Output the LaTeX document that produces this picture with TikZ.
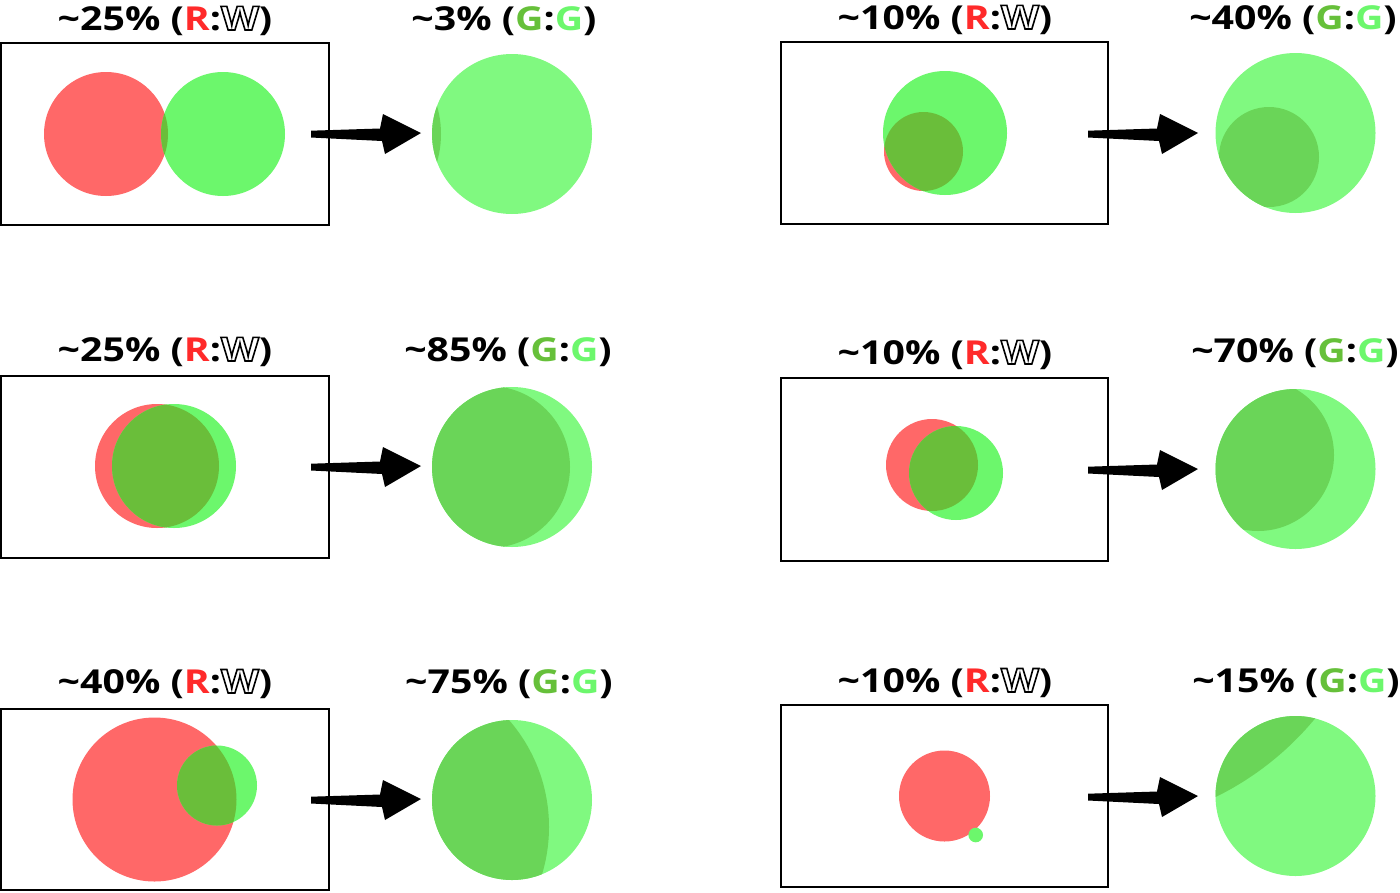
\documentclass[tikz,border=0pt]{standalone}
\usepackage{fontspec}
\setmainfont{Open Sans}[FakeStretch=1.19]
\definecolor{cred}{RGB}{255,104,104}
\definecolor{cgreen}{RGB}{108,247,108}
\definecolor{colive}{RGB}{106,190,58}
\definecolor{clight}{RGB}{128,249,128}
\definecolor{cdark}{RGB}{106,213,88}
\definecolor{tred}{RGB}{255,42,42}
\definecolor{tg}{RGB}{102,192,58}
\definecolor{tl}{RGB}{108,247,108}
\newcommand{\hollowW}{\special{pdf:literal direct 1 Tr 1.6 w}W\special{pdf:literal direct 0 Tr}}
\newcommand{\RW}{(\textcolor{tred}{R}:\hollowW)}
\newcommand{\GG}{(\textcolor{tg}{G}:\textcolor{tl}{G})}
\newcommand{\fatarrow}[1]{\fill[black,shift={(#1)}] (0,-3.3) -- (69,-5.5) -- (72,-20) -- (110,-1) -- (74,20) -- (71,7) -- (0,3.5) -- cycle;}
\tikzset{
  lab/.style={font=\fontsize{33}{33}\selectfont\bfseries, anchor=base, inner sep=0},
  frame/.style={draw=black, line width=1.6pt, fill=white}
}
\begin{document}
\begin{tikzpicture}[x=1pt,y=-1pt]
\useasboundingbox (0,0) rectangle (1400,892);
% ---------- frames
\draw[frame] (1,43) rectangle (329,225);
\draw[frame] (1,376) rectangle (329,558);
\draw[frame] (1,709) rectangle (329,890);
\draw[frame] (781,42) rectangle (1108,224);
\draw[frame] (781,378) rectangle (1108,561);
\draw[frame] (781,705) rectangle (1108,887);
% ---------- labels
\node[lab] (t1) at (165,30) {\textasciitilde25\% \RW};
\node[lab] (t2) at (504,30) {\textasciitilde3\% \GG};
\node[lab] (t3) at (165,361) {\textasciitilde25\% \RW};
\node[lab] (t4) at (508,361) {\textasciitilde85\% \GG};
\node[lab] (t5) at (165,693) {\textasciitilde40\% \RW};
\node[lab] (t6) at (509,693) {\textasciitilde75\% \GG};
\node[lab] (t7) at (945,29) {\textasciitilde10\% \RW};
\node[lab] (t8) at (1293,29) {\textasciitilde40\% \GG};
\node[lab] (t9) at (945,364) {\textasciitilde10\% \RW};
\node[lab] (t10) at (1295,362) {\textasciitilde70\% \GG};
\node[lab] (t11) at (945,692) {\textasciitilde10\% \RW};
\node[lab] (t12) at (1296,692) {\textasciitilde15\% \GG};
% ---------- box contents
% row 1 left
\fill[cred] (106,134) circle (62);
\fill[cgreen] (223,134) circle (62);
\begin{scope}\clip (106,134) circle (62); \fill[colive] (223,134) circle (62);\end{scope}
% row 2 left
\fill[cred] (157,466) circle (62);
\fill[cgreen] (174,466) circle (62);
\begin{scope}\clip (157,466) circle (62); \fill[colive] (174,466) circle (62);\end{scope}
% row 3 left
\fill[cred] (154.5,799.5) circle (82);
\fill[cgreen] (217,785.5) circle (40);
\begin{scope}\clip (154.5,799.5) circle (82); \fill[colive] (217,785.5) circle (40);\end{scope}
% row 1 right
\fill[cred] (923.5,151.5) circle (39.5);
\fill[cgreen] (945,133) circle (62);
\begin{scope}\clip (923.5,151.5) circle (39.5); \fill[colive] (945,133) circle (62);\end{scope}
% row 2 right
\fill[cred] (932,465) circle (46);
\fill[cgreen] (956,473) circle (47);
\begin{scope}\clip (932,465) circle (46); \fill[colive] (956,473) circle (47);\end{scope}
% row 3 right
\fill[cred] (944.5,796) circle (45.5);
\fill[cgreen] (975.7,835) circle (7.3);
% ---------- result circles
\fill[clight] (512,134) circle (80);
\begin{scope}\clip (512,134) circle (80); \fill[cdark] (341,134) circle (100);\end{scope}
\fill[clight] (512,467) circle (80);
\begin{scope}\clip (512,467) circle (80); \fill[cdark] (489,467) circle (81);\end{scope}
\fill[clight] (512,800) circle (80);
\begin{scope}\clip (512,800) circle (80); \fill[cdark] (386,827) circle (163);\end{scope}
\fill[clight] (1295.5,133) circle (80);
\begin{scope}\clip (1295.5,133) circle (80); \fill[cdark] (1269,157) circle (50);\end{scope}
\fill[clight] (1295.5,469) circle (80);
\begin{scope}\clip (1295.5,469) circle (80); \fill[cdark] (1258,455) circle (76);\end{scope}
\fill[clight] (1295.5,796) circle (80);
\begin{scope}\clip (1295.5,796) circle (80); \fill[cdark] (1083.7,527.5) circle (300);\end{scope}
% ---------- arrows
\coordinate (a1) at (311,134);
\coordinate (a2) at (311,467);
\coordinate (a3) at (311,800);
\coordinate (a4) at (1088,134);
\coordinate (a5) at (1088,470);
\coordinate (a6) at (1088,797);
\fatarrow{a1}\fatarrow{a2}\fatarrow{a3}\fatarrow{a4}\fatarrow{a5}\fatarrow{a6}
\end{tikzpicture}
\end{document}
